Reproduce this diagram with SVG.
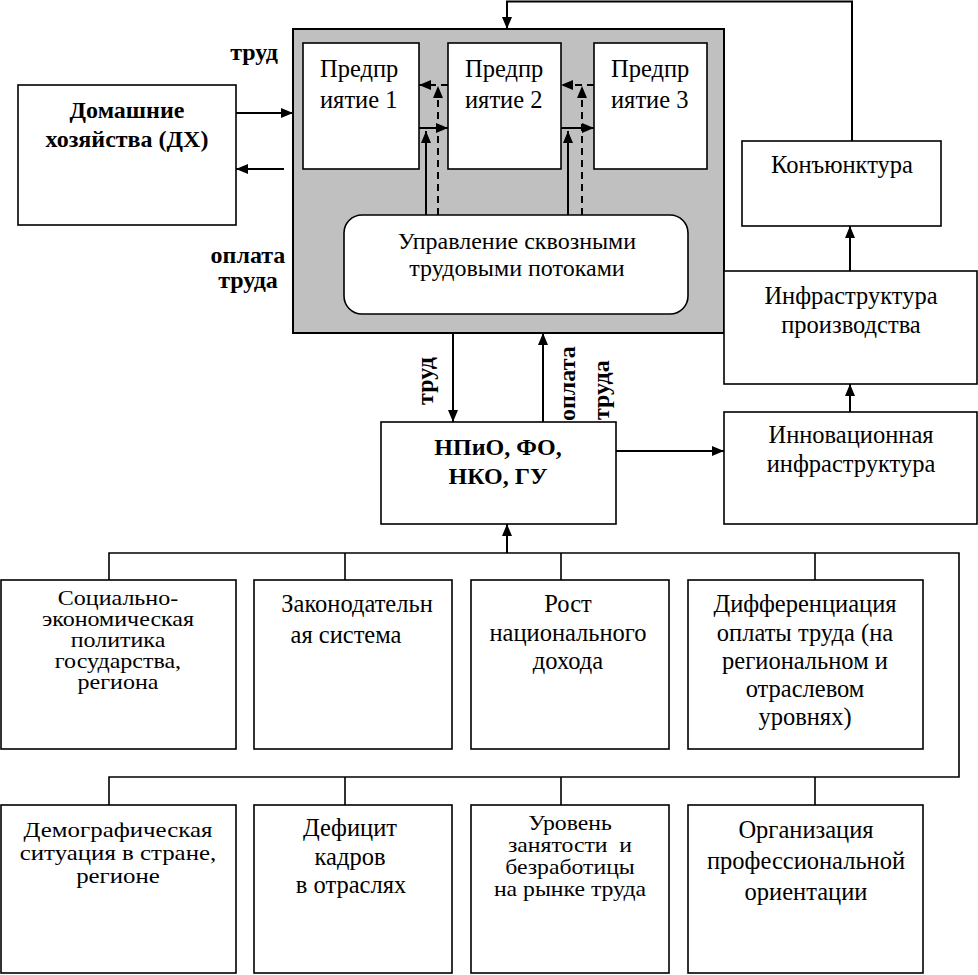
<svg xmlns="http://www.w3.org/2000/svg" width="978" height="975" viewBox="0 0 978 975">
<defs>
<marker id="ah" markerWidth="12" markerHeight="10" refX="12" refY="5" orient="auto" markerUnits="userSpaceOnUse">
<path d="M0,0 L12,5 L0,10 z" fill="#000"/>
</marker>
<style>
.box{fill:#fff;stroke:#000;stroke-width:1.6}
text{font-family:'Liberation Serif','Times New Roman',serif;font-size:24.5px;fill:#000}
.tc{text-anchor:middle}
.b{font-weight:bold;font-size:24px}
.s20{font-size:20px}
.s22{font-size:22px}
.s21{font-size:21px}
.ln{fill:none;stroke:#000;stroke-width:1.6}
.ar{fill:none;stroke:#000;stroke-width:2;marker-end:url(#ah)}
.da{fill:none;stroke:#000;stroke-width:2;stroke-dasharray:7,5;marker-end:url(#ah)}
</style>
</defs>
<rect width="978" height="975" fill="#fff"/>

<g id="core">
<rect x="293" y="29" width="431" height="304" fill="#c0c0c0" stroke="#000" stroke-width="2"/>
</g>
<g id="ent1">
<rect class="box" x="303" y="43" width="116" height="126"/>
<text x="320" y="77">Предпр</text>
<text x="320" y="108">иятие 1</text>
</g>
<g id="ent2">
<rect class="box" x="448" y="43" width="113" height="126"/>
<text x="465" y="77">Предпр</text>
<text x="465" y="108">иятие 2</text>
</g>
<g id="ent3">
<rect class="box" x="594" y="43" width="113" height="126"/>
<text x="611" y="77">Предпр</text>
<text x="611" y="108">иятие 3</text>
</g>
<g id="mgmt">
<rect class="box" x="344" y="215" width="344" height="99" rx="18" ry="18"/>
<text class="tc" x="517" y="249" style="font-size:24px">Управление сквозными</text>
<text class="tc" x="517" y="276" style="font-size:24px">трудовыми потоками</text>
</g>
<g id="hh">
<rect class="box" x="18" y="85" width="218" height="140"/>
<text class="tc b" x="127" y="118">Домашние</text>
<text class="tc b" x="127" y="147">хозяйства (ДХ)</text>
</g>
<g id="konj">
<rect class="box" x="742" y="141" width="199" height="85"/>
<text class="tc" x="842" y="173">Конъюнктура</text>
</g>
<g id="infra">
<rect class="box" x="724" y="271" width="253" height="113"/>
<text class="tc" x="851" y="304">Инфраструктура</text>
<text class="tc" x="851" y="333">производства</text>
</g>
<g id="innov">
<rect class="box" x="724" y="412" width="253" height="112"/>
<text class="tc" x="851" y="443">Инновационная</text>
<text class="tc" x="851" y="472">инфраструктура</text>
</g>
<g id="npio">
<rect class="box" x="381" y="422" width="235" height="102"/>
<text class="tc b" x="498" y="455">НПиО, ФО,</text>
<text class="tc b" x="498" y="484">НКО, ГУ</text>
</g>

<g id="f1">
<rect class="box" x="1" y="580" width="235" height="169"/>
<g transform="translate(118,0) scale(1.2,1) translate(-118,0)">
<text class="tc s20" x="118" y="605">Социально-</text>
<text class="tc s20" x="118" y="626">экономическая</text>
<text class="tc s20" x="118" y="647">политика</text>
<text class="tc s20" x="118" y="668">государства,</text>
<text class="tc s20" x="118" y="689">региона</text>
</g>
</g>
<g id="f2">
<rect class="box" x="254" y="580" width="198" height="169"/>
<text class="tc" x="357" y="612">Законодательн</text>
<text class="tc" x="346" y="643">ая система</text>
</g>
<g id="f3">
<rect class="box" x="471" y="580" width="198" height="169"/>
<text class="tc" x="568" y="612">Рост</text>
<text class="tc" x="568" y="641">национального</text>
<text class="tc" x="568" y="669">дохода</text>
</g>
<g id="f4">
<rect class="box" x="688" y="580" width="235" height="169"/>
<text class="tc" x="805" y="612">Дифференциация</text>
<text class="tc" x="805" y="641">оплаты труда (на</text>
<text class="tc" x="805" y="669">региональном и</text>
<text class="tc" x="805" y="697">отраслевом</text>
<text class="tc" x="805" y="725">уровнях)</text>
</g>
<g id="f5">
<rect class="box" x="1" y="805" width="235" height="168"/>
<g transform="translate(118,0) scale(1.13,1) translate(-118,0)">
<text class="tc s22" x="118" y="837">Демографическая</text>
<text class="tc s22" x="118" y="860">ситуация в стране,</text>
<text class="tc s22" x="118" y="883">регионе</text>
</g>
</g>
<g id="f6">
<rect class="box" x="254" y="805" width="198" height="168"/>
<text class="tc" x="350" y="836">Дефицит</text>
<text class="tc" x="350" y="865">кадров</text>
<text class="tc" x="351" y="893">в отраслях</text>
</g>
<g id="f7">
<rect class="box" x="471" y="805" width="198" height="168"/>
<g transform="translate(570,0) scale(1.13,1) translate(-570,0)">
<text class="tc s21" x="570" y="830">Уровень</text>
<text class="tc s21" x="570" y="852">занятости&#160; и</text>
<text class="tc s21" x="570" y="874">безработицы</text>
<text class="tc s21" x="570" y="896">на рынке труда</text>
</g>
</g>
<g id="f8">
<rect class="box" x="688" y="805" width="235" height="168"/>
<text class="tc" x="806" y="838">Организация</text>
<text class="tc" x="806" y="869">профессиональной</text>
<text class="tc" x="806" y="900">ориентации</text>
</g>

<g id="connectors">
<path class="ar" d="M852,141 V1.5 H507 V29"/>
<path class="ar" d="M850,271 V226"/>
<path class="ar" d="M850,412 V384"/>
<path class="ar" d="M616,451 H724"/>
<path class="ar" d="M236,113 H293"/>
<path class="ar" d="M284,169 H236"/>
<path class="ar" d="M453,333 V422"/>
<path class="ar" d="M543,422 V333"/>
<path class="ar" d="M419,128 H448"/>
<path class="ar" d="M561,128 H594"/>
<path class="ar" d="M426,215 V131"/>
<path class="ar" d="M568,215 V131"/>
<path class="da" d="M448,85 H419"/>
<path class="da" d="M594,85 H561"/>
<path class="da" d="M438,215 V86"/>
<path class="da" d="M582,215 V86"/>
<path class="ar" d="M507,553 V524"/>
<path class="ln" d="M109,580 V553 H959 V777 H109 V805"/>
<path class="ln" d="M345,553 V580 M561,553 V580 M815,553 V580"/>
<path class="ln" d="M345,777 V805 M561,777 V805 M815,777 V805"/>
</g>

<g id="labels">
<text class="b" x="278" y="60" text-anchor="end">труд</text>
<text class="b tc" x="248" y="263">оплата</text>
<text class="b tc" x="248" y="288">труда</text>
<text class="b tc" transform="translate(433,381) rotate(-90)">труд</text>
<text class="b" transform="translate(575,421) rotate(-90)">оплата</text>
<text class="b" transform="translate(609,420) rotate(-90)">труда</text>
</g>
</svg>
